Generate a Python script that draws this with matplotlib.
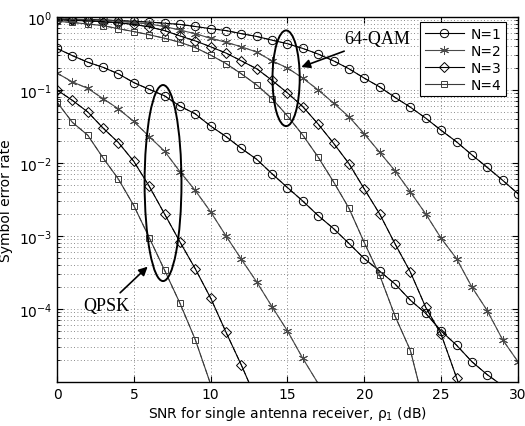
import numpy as np
import matplotlib.pyplot as plt
from matplotlib.patches import Ellipse
from matplotlib.lines import Line2D

snr = np.arange(0, 31)

# QPSK, symbol error rate vs SNR (dB)
qpsk_n1 = [0.37, 0.295, 0.24, 0.204, 0.166, 0.126, 0.102, 0.083, 0.060, 0.047,
           0.032, 0.023, 0.0158, 0.0112, 0.0071, 0.0046, 0.0030, 0.0019, 0.00126, 0.00079,
           0.00049, 0.00033, 0.00022, 0.000132, 8.7e-5, 5.0e-5, 3.2e-5, 1.9e-5, 1.26e-5, 8.9e-6]
qpsk_n2 = [0.17, 0.129, 0.105, 0.076, 0.055, 0.037, 0.023, 0.0145, 0.0076, 0.0042,
           0.00214, 0.001, 0.00048, 0.000234, 0.000107, 5.0e-5, 2.1e-5, 9.5e-6]
qpsk_n3 = [0.1, 0.072, 0.050, 0.030, 0.019, 0.0105, 0.0048, 0.002, 0.00083, 0.000355,
           0.000141, 4.8e-5, 1.7e-5, 5.6e-6]
qpsk_n4 = [0.068, 0.036, 0.024, 0.0117, 0.006, 0.0026, 0.00095, 0.00034, 0.00012, 3.8e-5,
           9.3e-6]

# 64-QAM
qam_n1 = [0.94, 0.93, 0.92, 0.91, 0.89, 0.87, 0.85, 0.82, 0.79, 0.74,
          0.69, 0.65, 0.59, 0.54, 0.48, 0.43, 0.37, 0.31, 0.25, 0.195,
          0.145, 0.11, 0.079, 0.058, 0.041, 0.028, 0.0195, 0.0129, 0.0087, 0.0058, 0.0038]
qam_n2 = [0.93, 0.92, 0.91, 0.89, 0.87, 0.84, 0.80, 0.74, 0.66, 0.59,
          0.51, 0.45, 0.39, 0.33, 0.25, 0.20, 0.145, 0.10, 0.066, 0.043,
          0.025, 0.014, 0.0078, 0.004, 0.002, 0.00093, 0.00049, 0.0002, 9.5e-5, 3.8e-5, 1.9e-5]
qam_n3 = [0.91, 0.90, 0.88, 0.86, 0.83, 0.79, 0.73, 0.65, 0.55, 0.47,
          0.39, 0.32, 0.25, 0.195, 0.135, 0.091, 0.059, 0.034, 0.0186, 0.0098,
          0.0044, 0.002, 0.00078, 0.00032, 0.000105, 4.5e-5, 1.15e-5, 3e-6]
qam_n4 = [0.87, 0.84, 0.80, 0.76, 0.69, 0.63, 0.57, 0.51, 0.45, 0.38,
          0.30, 0.23, 0.166, 0.117, 0.076, 0.044, 0.024, 0.012, 0.0055, 0.0024,
          0.00081, 0.00029, 8e-5, 2.7e-5, 4e-6]

labels = ['N=1', 'N=2', 'N=3', 'N=4']
markers = ['o', (6, 2, 0), 'D', 's']
msizes = [6, 6.5, 5, 5]
colors = ['black', '#4a4a4a', 'black', '#3a3a3a']

plt.rcParams['font.family'] = ['DejaVu Sans']
fig = plt.figure(figsize=(5.25, 4.27), dpi=100)
ax = fig.add_axes([0.1086, 0.103, 0.878, 0.855])

for curves in [(qpsk_n1, qpsk_n2, qpsk_n3, qpsk_n4), (qam_n1, qam_n2, qam_n3, qam_n4)]:
    for i, ser in enumerate(curves):
        ser = np.array(ser)
        x = snr[:len(ser)]
        ax.plot(x, ser, '-', color=colors[i], lw=0.8)
        ax.plot(x, ser, '--', color=colors[i], lw=0.6, dashes=(6, 4))
        keep = ser > 1.05e-5
        ax.plot(x[keep], ser[keep], linestyle='none', marker=markers[i], ms=msizes[i],
                mfc='none', mec=colors[i], mew=0.7)

ax.set_yscale('log')
ax.set_xlim(0, 30)
ax.set_ylim(1e-5, 1)
ax.set_xticks([0, 5, 10, 15, 20, 25, 30])
ax.set_yticks([1e-4, 1e-3, 1e-2, 1e-1, 1e0])
ax.tick_params(which='both', direction='in', top=True, right=True, labelsize=10)
ax.tick_params(which='major', length=4)
ax.tick_params(which='minor', length=2)
ax.grid(True, which='major', linestyle=(0, (1, 3)), color='#666666', lw=0.6)
ax.grid(True, which='minor', axis='y', linestyle=(0, (1, 3)), color='#666666', lw=0.6)
for s in ax.spines.values():
    s.set_linewidth(1.0)

ax.set_xlabel('SNR for single antenna receiver, ρ$_1$ (dB)', fontsize=10, labelpad=2)
ax.set_ylabel('Symbol error rate', fontsize=10, labelpad=4)

# ellipses around the curve groups
ax.add_patch(Ellipse((0.230, 0.545), 0.080, 0.537, transform=ax.transAxes,
                     fill=False, ec='black', lw=1.4, zorder=5))
ax.add_patch(Ellipse((0.497, 0.832), 0.059, 0.262, transform=ax.transAxes,
                     fill=False, ec='black', lw=1.4, zorder=5))

ax.annotate('64-QAM', xy=(15.9, 0.206), xytext=(18.7, 0.5), fontsize=13,
            family='Liberation Serif', ha='left', va='center',
            arrowprops=dict(arrowstyle='-|>', color='black', lw=1.2, shrinkA=2, shrinkB=0))
ax.annotate('QPSK', xy=(5.9, 3.8e-4), xytext=(1.7, 1.1e-4), fontsize=13,
            family='Liberation Serif', ha='left', va='center',
            arrowprops=dict(arrowstyle='-|>', color='black', lw=1.2, shrinkA=2, shrinkB=0))

handles = [Line2D([], [], color=colors[i], lw=0.8, marker=markers[i], ms=msizes[i],
                  mfc='none', mec=colors[i], mew=0.7) for i in range(4)]
leg = ax.legend(handles, labels, loc='upper right', bbox_to_anchor=(0.975, 0.985),
                fontsize=10, handlelength=2.8, handletextpad=0.5, borderpad=0.35,
                fancybox=False, framealpha=1, edgecolor='black', borderaxespad=0,
                labelspacing=0.2)
leg.get_frame().set_linewidth(0.8)

fig.savefig('out.png', dpi=100)
